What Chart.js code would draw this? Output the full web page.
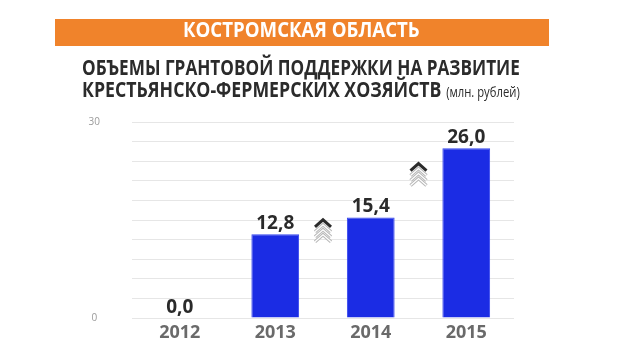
<!DOCTYPE html>
<html>
<head>
<meta charset="utf-8">
<script src="https://cdn.jsdelivr.net/npm/chart.js@4/dist/chart.umd.min.js"></script>
<style>
  html, body { margin:0; padding:0; background:#fff; }
  #wrap { position:relative; width:640px; height:360px; overflow:hidden; font-family:"Open Sans", sans-serif; }
  #chart { position:absolute; left:0; top:0; }
  .banner { position:absolute; left:55px; top:19px; width:494px; height:27px; background:#f0832b; }
  .fit { position:absolute; white-space:nowrap; transform-origin:0 0; font-weight:700; }
  #region { color:#fff; font-size:21px; top:15px; left:183px; }
  #line1 { color:#2b2b2b; font-size:22px; top:51px; left:82px; }
  #line2 { color:#2b2b2b; font-size:22px; top:73px; left:82px; }
  #line2 small { font-size:14px; font-weight:400; }
</style>
</head>
<body>
<div id="wrap">
  <canvas id="chart" width="640" height="360"></canvas>
  <div class="banner"></div>
  <div class="fit" id="region" data-w="237">КОСТРОМСКАЯ ОБЛАСТЬ</div>
  <div class="fit" id="line1" data-w="438">ОБЪЕМЫ ГРАНТОВОЙ ПОДДЕРЖКИ НА РАЗВИТИЕ</div>
  <div class="fit" id="line2" data-w="438">КРЕСТЬЯНСКО-ФЕРМЕРСКИХ ХОЗЯЙСТВ <small>(млн. рублей)</small></div>
</div>
<script>
// ==================== DATA ====================
const years = ["2012", "2013", "2014", "2015"];
const grants = [0.0, 12.8, 15.4, 26.0];
const yTicksShown = [0, 30];
const arrowLevels = [13.2, 21.8]; // where the growth chevrons sit, in data units

// squeeze title lines to the width they have on the original slide
document.querySelectorAll(".fit").forEach(el => {
    const k = (+el.dataset.w) / el.scrollWidth;
    el.style.transform = "scaleX(" + k + ")";
});

// ==================== PLUGINS ====================
const valueLabels = {
    id: "valueLabels",
    afterDatasetsDraw(chart){
        const ctx = chart.ctx;
        const meta = chart.getDatasetMeta(0);
        ctx.save();
        ctx.font = "700 19px 'Open Sans', sans-serif";
        ctx.fillStyle = "#2a2a2a";
        ctx.textAlign = "center";
        ctx.textBaseline = "alphabetic";
        meta.data.forEach((bar, i) => {
            const txt = grants[i].toFixed(1).replace(".", ",");
            ctx.fillText(txt, bar.x, bar.y - 5);
        });
        ctx.restore();
    }
};

function chevron(ctx, cx, top, w, h){
    ctx.beginPath();
    ctx.moveTo(cx - w/2, top + h);
    ctx.lineTo(cx, top);
    ctx.lineTo(cx + w/2, top + h);
    ctx.stroke();
}

const growthArrows = {
    id: "growthArrows",
    afterDatasetsDraw(chart){
        const ctx = chart.ctx;
        const xs = chart.scales.x, ys = chart.scales.y;
        ctx.save();
        ctx.lineJoin = "miter";
        arrowLevels.forEach((lvl, i) => {
            const cx = (xs.getPixelForValue(i + 1) + xs.getPixelForValue(i + 2)) / 2;
            const top = ys.getPixelForValue(lvl) - 12;
            // faded chevrons
            for(let k = 3; k >= 1; k--){
                ctx.strokeStyle = "#b9b9b9";
                ctx.lineWidth = 3.4;
                chevron(ctx, cx, top + k*5, 16, 7);
                ctx.strokeStyle = "#fff";
                ctx.lineWidth = 1.2;
                chevron(ctx, cx, top + k*5, 16, 7);
            }
            ctx.strokeStyle = "#2b2b2b";
            ctx.lineWidth = 3;
            chevron(ctx, cx, top, 16, 7);
        });
        ctx.restore();
    }
};

// ==================== CHART ====================
new Chart(document.getElementById("chart"), {
    type: "bar",
    data: {
        labels: years,
        datasets: [{
            data: grants,
            backgroundColor: "#1b2ce4",
            borderColor: "#3445ee",
            borderWidth: 1,
            categoryPercentage: 1.0,
            barPercentage: 0.5
        }]
    },
    options: {
        responsive: false,
        animation: false,
        layout: { padding: { left: 0, right: 126, top: 122, bottom: 10 } },
        plugins: { legend: { display: false }, tooltip: { enabled: false } },
        scales: {
            x: {
                grid: { display: false, drawTicks: false },
                border: { display: false },
                ticks: { color: "#6a6a6a", padding: 4, font: { family: "'Open Sans', sans-serif", size: 18, weight: "700" } },
                afterFit(s){ s.height = 32; }
            },
            y: {
                min: 0, max: 30,
                grid: { color: "#e6e6e6", lineWidth: 1, drawTicks: false },
                border: { display: false },
                ticks: {
                    stepSize: 3,
                    padding: 32,
                    crossAlign: "center",
                    color: "#9a9a9a",
                    font: { family: "'Open Sans', sans-serif", size: 10 },
                    autoSkip: false,
                    callback: v => yTicksShown.includes(v) ? String(v) : ""
                },
                afterFit(s){ s.width = 132; }
            }
        }
    },
    plugins: [valueLabels, growthArrows]
});
</script>
</body>
</html>
